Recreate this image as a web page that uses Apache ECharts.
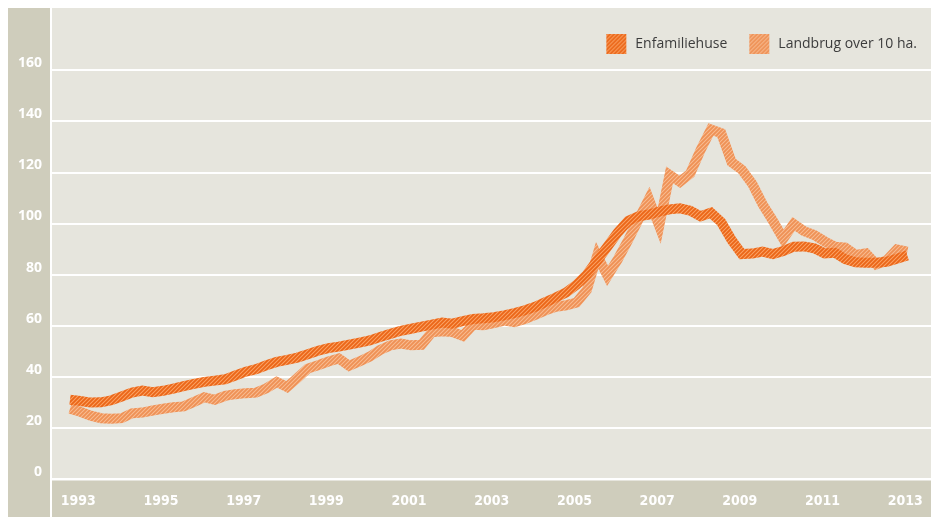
<!DOCTYPE html>
<html>
<head>
<meta charset="utf-8">
<script src="https://cdn.jsdelivr.net/npm/echarts@6/dist/echarts.min.js"></script>
<style>
  html, body { margin: 0; padding: 0; background: #ffffff; }
  #chart { width: 931px; height: 517px; }
</style>
</head>
<body>
<div id="chart"></div>
<script>
// Quarterly index values, 1993 Q1 onwards
const startYear = 1993;
const seriesNames = ['Enfamiliehuse', 'Landbrug over 10 ha.'];
const enfamiliehuse = [
  31, 30.5, 29.9, 30, 30.8, 32.3, 33.8, 34.6, 34, 34.5,
  35.4, 36.3, 37.2, 38, 38.5, 39, 40.5, 42, 43, 44.5,
  45.8, 46.6, 47.5, 48.8, 50.2, 51.2, 51.8, 52.6, 53.4, 54.2,
  55.6, 56.8, 58, 58.8, 59.6, 60.4, 61.2, 60.8, 61.8, 62.6,
  62.9, 63.3, 64, 64.9, 66, 67.4, 69.2, 71, 73, 76,
  80, 85.5, 91, 96.5, 101, 102.8, 103.5, 104.6, 105.5, 105.9,
  105, 102.8, 104.2, 100.5, 93.5, 88, 88.2, 89, 88, 89.2,
  90.9, 91, 90.3, 88.3, 88.5, 86, 84.8, 84.6, 84.6, 85,
  86.2, 87.5
];
const landbrug = [
  27.5, 26.3, 24.8, 23.8, 23.6, 23.8, 25.7, 26, 26.8, 27.5,
  28.1, 28.4, 30.2, 32, 31, 32.5, 33.2, 33.6, 33.8, 35.5,
  38, 36, 39.5, 43.2, 44.5, 46, 47.2, 44.3, 46, 47.9,
  50.5, 52.3, 53, 52.3, 52.5, 57.4, 57.8, 57.5, 56, 60.4,
  60.2, 61, 62, 61.4, 62.6, 64.2, 66, 67.4, 68, 69,
  74, 87.5, 79.5, 86, 93.5, 101.5, 109.5, 99, 119, 116.3,
  119.5, 128.7, 136.8, 135.3, 124, 121, 115.5, 107.5, 101, 94,
  99.8, 97, 95.5, 93, 90.9, 90.5, 87.7, 88.3, 84, 85.5,
  89.8, 89
];
const xTickYears = [1993, 1995, 1997, 1999, 2001, 2003, 2005, 2007, 2009, 2011, 2013];
const yTickValues = [0, 20, 40, 60, 80, 100, 120, 140, 160];

function makePattern(base, stripe, light) {
  const c = document.createElement('canvas');
  c.width = 8; c.height = 8;
  const g = c.getContext('2d');
  g.fillStyle = base;
  g.fillRect(0, 0, 8, 8);
  g.lineCap = 'square';
  for (let x = -8; x <= 8; x += 4) {
    g.strokeStyle = stripe;
    g.lineWidth = 1.4;
    g.beginPath(); g.moveTo(x, 8); g.lineTo(x + 8, 0); g.stroke();
    g.strokeStyle = light;
    g.lineWidth = 0.6;
    g.beginPath(); g.moveTo(x + 2, 8); g.lineTo(x + 10, 0); g.stroke();
  }
  return { image: c, repeat: 'repeat' };
}

const patE = makePattern('#f6843a', '#ea6619', '#fbb07c');
const patL = makePattern('#f5a671', '#ee9156', '#f9c6a2');

function toPairs(arr) {
  return arr.map((v, i) => [startYear + i / 4, v]);
}

const chart = echarts.init(document.getElementById('chart'), null, { renderer: 'canvas' });

const splitColors = yTickValues.map(() => '#ffffff').concat(['rgba(0,0,0,0)']);

chart.setOption({
  animation: false,
  backgroundColor: '#ffffff',
  graphic: [
    { type: 'rect', z: -10, silent: true, shape: { x: 8, y: 8, width: 42, height: 509 }, style: { fill: '#cfcdbc' } },
    { type: 'rect', z: -10, silent: true, shape: { x: 52, y: 8, width: 879, height: 473 }, style: { fill: '#e6e5dd' } },
    { type: 'rect', z: -10, silent: true, shape: { x: 52, y: 481, width: 879, height: 36 }, style: { fill: '#cfcdbc' } }
  ],
  grid: { left: 52, right: 0, top: 19, bottom: 38, containLabel: false },
  legend: {
    right: 9,
    top: 29,
    icon: 'rect',
    itemWidth: 20,
    itemHeight: 20,
    itemGap: 22,
    itemStyle: { borderWidth: 0 },
    textStyle: { fontFamily: 'Open Sans', fontSize: 14, color: '#3c3c3c', padding: [0, 0, 0, 4] },
    data: seriesNames
  },
  xAxis: {
    type: 'value',
    min: 1992.565,
    max: 2013.823,
    axisLine: { show: false },
    axisTick: { show: false },
    splitLine: { show: false },
    axisLabel: {
      customValues: xTickYears.map(y => y + 0.2),
      formatter: v => String(Math.round(v - 0.2)),
      color: '#ffffff',
      fontFamily: 'DejaVu Sans Condensed',
      fontWeight: 'bold',
      fontSize: 14,
      margin: 15
    }
  },
  yAxis: {
    type: 'value',
    min: 0,
    max: 180,
    interval: 20,
    axisLine: { show: false },
    axisTick: { show: false },
    splitLine: { show: true, showMaxLine: false, lineStyle: { color: splitColors, width: 2 } },
    axisLabel: {
      formatter: v => (v >= 180 ? '' : String(v)),
      color: '#ffffff',
      fontFamily: 'Open Sans',
      fontWeight: 'bold',
      fontSize: 14,
      lineHeight: 14,
      verticalAlign: 'bottom',
      margin: 10
    }
  },
  series: [
    {
      name: seriesNames[1],
      type: 'line',
      data: toPairs(landbrug),
      showSymbol: false,
      symbol: 'none',
      z: 2,
      itemStyle: { color: patL },
      lineStyle: { color: patL, width: 10, join: 'miter', cap: 'butt' }
    },
    {
      name: seriesNames[0],
      type: 'line',
      data: toPairs(enfamiliehuse),
      showSymbol: false,
      symbol: 'none',
      z: 3,
      itemStyle: { color: patE },
      lineStyle: { color: patE, width: 10, join: 'miter', cap: 'butt' }
    }
  ]
});
</script>
</body>
</html>
